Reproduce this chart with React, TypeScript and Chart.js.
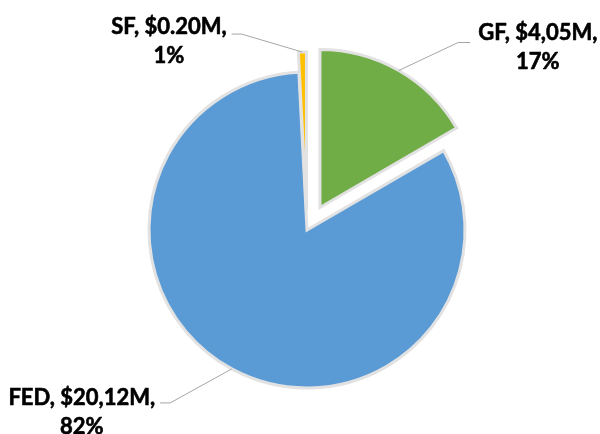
import React, { useEffect, useRef } from "react";
import { Chart, registerables } from "chart.js";

Chart.register(...registerables);

const categories = ["GF", "FED", "SF"];
const values = [4.05, 20.12, 0.2];
const valueLabels = ["$4,05M", "$20,12M", "$0.20M"];
const percentLabels = ["17%", "82%", "1%"];
const colors = ["#70AD47", "#5B9BD5", "#FFC000"];

// explode distance per slice (px)
const explode = [26, 0, 20];
// label block centre relative to leader anchor on the arc, and leader line y offset
const labelLayout = [
  { dx: 139, dy: -23.5, ly: -4.5, side: "right" },
  { dx: -150, dy: 43, ly: -9, side: "left" },
  { dx: -133.5, dy: -11, ly: -7, side: "left" },
];

const FONT = "bold 22px Lato, 'Open Sans', sans-serif";
const LINE_H = 29;

const piePlugin = {
  id: "explodeAndLabels",
  beforeDatasetsDraw(chart: any) {
    const meta = chart.getDatasetMeta(0);
    const { left, right, top, bottom } = chart.chartArea;
    const cx = (left + right) / 2;
    const cy = (top + bottom) / 2;
    meta.data.forEach((arc: any, i: number) => {
      const mid = (arc.startAngle + arc.endAngle) / 2;
      arc.x = cx + Math.cos(mid) * explode[i];
      arc.y = cy + Math.sin(mid) * explode[i];
    });
  },
  afterDatasetsDraw(chart: any) {
    const ctx = chart.ctx;
    const meta = chart.getDatasetMeta(0);
    ctx.save();
    ctx.font = FONT;
    ctx.textAlign = "center";
    ctx.textBaseline = "middle";
    meta.data.forEach((arc: any, i: number) => {
      const mid = (arc.startAngle + arc.endAngle) / 2;
      const R = arc.outerRadius;
      const ax = arc.x + Math.cos(mid) * R;
      const ay = arc.y + Math.sin(mid) * R;
      const lay = labelLayout[i];
      const tx = ax + lay.dx;
      const ty = ay + lay.dy;
      const lines = [`${categories[i]}, ${valueLabels[i]},`, percentLabels[i]];
      const w = Math.max(...lines.map((l) => ctx.measureText(l).width));
      const lineY = ty + lay.ly;
      let ex: number, elx: number;
      if (lay.side === "right") {
        ex = tx - w / 2 - 8;
        elx = ex - 12;
      } else {
        ex = tx + w / 2 + 5;
        elx = ex + 10;
      }
      ctx.strokeStyle = "#a6a6a6";
      ctx.lineWidth = 1;
      ctx.beginPath();
      ctx.moveTo(ax, ay);
      ctx.lineTo(elx, lineY);
      ctx.lineTo(ex, lineY);
      ctx.stroke();
      ctx.fillStyle = "#000000";
      ctx.strokeStyle = "#000000";
      ctx.lineWidth = 0.6;
      ctx.lineJoin = "round";
      [lines[0], lines[1]].forEach((l, k) => {
        const y = ty + (k === 0 ? -LINE_H / 2 : LINE_H / 2);
        ctx.fillText(l, tx, y);
        ctx.strokeText(l, tx, y);
      });
    });
    ctx.restore();
  },
};

export default function App() {
  const ref = useRef<HTMLCanvasElement>(null);
  useEffect(() => {
    if (!ref.current) return;
    const chart = new Chart(ref.current, {
      type: "pie",
      data: {
        labels: categories,
        datasets: [
          {
            data: values,
            backgroundColor: colors,
            borderColor: "#e2e2e2",
            borderWidth: 3,
            borderJoinStyle: "miter",
          },
        ],
      },
      options: {
        responsive: false,
        animation: false,
        radius: 158,
        layout: { padding: { left: 14, top: 26, right: 0, bottom: 0 } },
        plugins: {
          legend: { display: false },
          tooltip: { enabled: false },
        },
      } as any,
      plugins: [piePlugin],
    });
    return () => chart.destroy();
  }, []);
  return (
    <div style={{ position: "absolute", left: 0, top: 0, width: 600, height: 434, background: "#fff" }}>
      <canvas ref={ref} width={600} height={434} style={{ display: "block" }} />
    </div>
  );
}
